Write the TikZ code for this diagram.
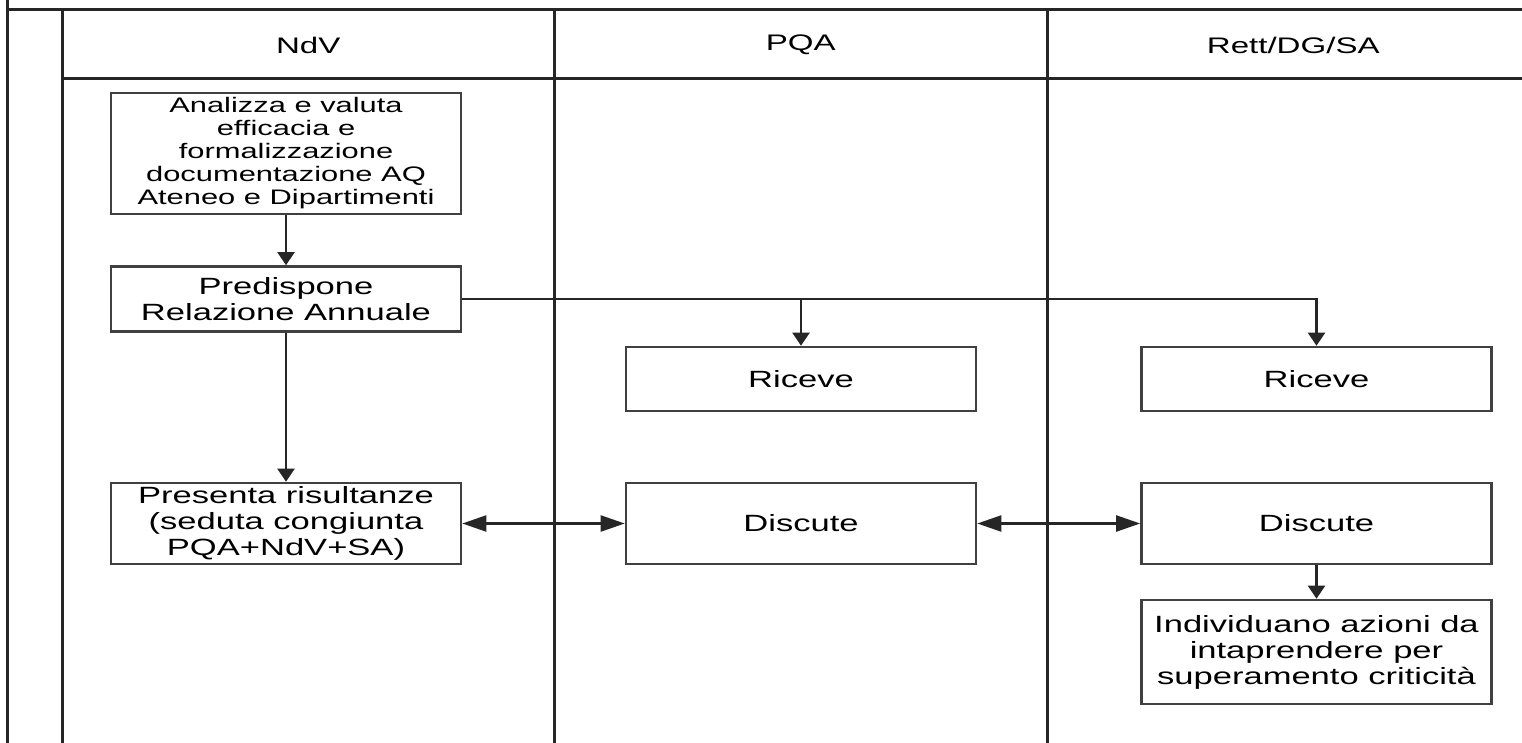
\documentclass[tikz,border=0pt]{standalone}
\usepackage{fontspec}
\newfontfamily\lanefont{Liberation Sans}[FakeStretch=1.47]
\usetikzlibrary{arrows.meta}

\tikzset{
	lane/.style={draw=black!85, line width=3pt},
	head/.style={font=\lanefont\fontsize{22.5}{26}\selectfont},
	task/.style={draw=black!75, fill=white, line width=2.6pt, rectangle, inner sep=0pt, align=center,
		font=\lanefont\fontsize{23.5}{26}\selectfont},
	flow/.style={draw=black!85, line width=2.2pt, -{Triangle[length=13pt,width=17pt]}},
	talk/.style={draw=black!85, line width=2.2pt, {Triangle[length=24pt,width=16pt]}-{Triangle[length=24pt,width=16pt]}}
}

\begin{document}
\begin{tikzpicture}[x=1pt, y=-1pt]
						\useasboundingbox (0,0) rectangle (1522,743);
						% lane labels
						\def\lanes {NdV,PQA,{Rett/DG/SA}};
						% sizes
						\def\laneWidth {492.5};
						\def\boxWidth {350};
						% pool frame
						\draw[lane] (7,0) -- (7,743);
						\draw[lane] (7,10) -- (1522,10);
						\draw[lane] (62,10) -- (62,743);
						\draw[lane] (62,79) -- (1522,79);
						% lane headers and dividers
						\foreach \label [count=\index] in \lanes
						{
							\node[head] (head_\index) at (62+\index*\laneWidth-\laneWidth/2,45) {\label};
							\draw[lane] (62+\index*\laneWidth,10) -- (62+\index*\laneWidth,743);
						}
						% NdV lane
						\node[task, minimum width=\boxWidth, minimum height=121,
							font=\lanefont\fontsize{21}{23}\selectfont] (analizza) at (286,153.5)
							{Analizza e valuta\\efficacia e\\formalizzazione\\documentazione AQ\\Ateneo e Dipartimenti};
						\node[task, minimum width=\boxWidth, minimum height=65] (predispone) at (286,299)
							{Predispone\\Relazione Annuale};
						\node[task, minimum width=\boxWidth, minimum height=81] (presenta) at (286,523.5)
							{Presenta risultanze\\(seduta congiunta\\PQA+NdV+SA)};
						% PQA lane
						\node[task, minimum width=\boxWidth, minimum height=64] (riceve_pqa) at (801,379) {Riceve};
						\node[task, minimum width=\boxWidth, minimum height=81] (discute_pqa) at (801,523.5) {Discute};
						% Rett/DG/SA lane
						\node[task, minimum width=\boxWidth, minimum height=64] (riceve_rett) at (1316.5,379) {Riceve};
						\node[task, minimum width=\boxWidth, minimum height=81] (discute_rett) at (1316.5,523.5) {Discute};
						\node[task, minimum width=\boxWidth, minimum height=104] (individuano) at (1316.5,652)
							{Individuano azioni da\\intaprendere per\\superamento criticità};
						% flows
						\draw[flow] (analizza) -- (predispone);
						\draw[flow] (predispone) -- (presenta);
						\draw[flow] (predispone.east) -| (riceve_pqa.north);
						\draw[flow] (predispone.east) -| (riceve_rett.north);
						\draw[talk] (presenta) -- (discute_pqa);
						\draw[talk] (discute_pqa) -- (discute_rett);
						\draw[flow] (discute_rett) -- (individuano);
					\end{tikzpicture}
\end{document}
